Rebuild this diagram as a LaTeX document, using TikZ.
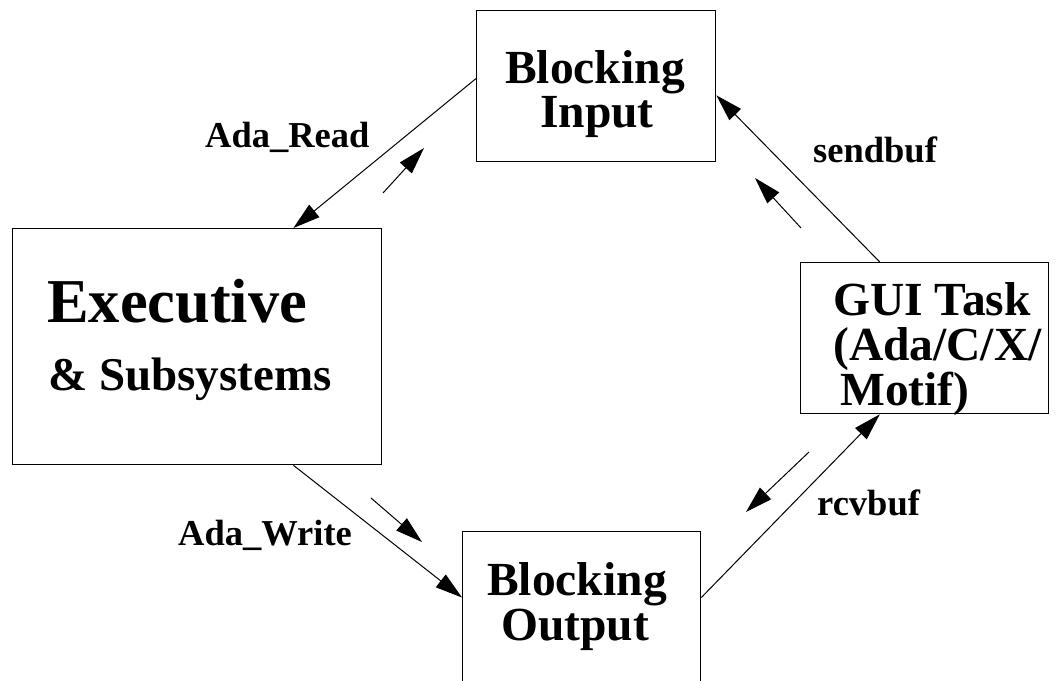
\documentclass[tikz,border=0pt]{standalone}
\usepackage{fontspec}
\setmainfont{Liberation Serif}
\usetikzlibrary{arrows.meta,calc}
\begin{document}
\begin{tikzpicture}[x=1pt,y=-1pt,
  box/.style={draw,line width=1.3pt,rectangle,inner sep=0pt,anchor=north west},
  big/.style={font=\fontsize{47.5}{50}\selectfont\bfseries, inner sep=0pt, anchor=base west},
  bigc/.style={big, anchor=base},
  lab/.style={font=\fontsize{36.5}{40}\selectfont\bfseries, inner sep=0pt, anchor=base west},
  conn/.style={line width=1pt,-{Triangle[length=27pt,width=16pt]}}]
\useasboundingbox (0,0) rectangle (1059,680);
% boxes
\node[box, minimum width=239pt, minimum height=151pt] (bin) at (476,10) {};
\node[box, minimum width=369pt, minimum height=236pt] (exe) at (12,228) {};
\node[box, minimum width=248pt, minimum height=151pt] (gui) at (800,262) {};
\node[box, minimum width=238pt, minimum height=180pt] (bout) at (462,531) {};
% box texts
\node[bigc] (binA) at (595,83) {Blocking};
\node[bigc] (binB) at (597,127) {Input};
\node[big, font=\fontsize{62.4}{66}\selectfont\bfseries] (exeA) at (47,322) {Executive};
\node[big, font=\fontsize{47}{50}\selectfont\bfseries] (exeB) at (48,390) {\& Subsystems};
\node[big] (guiA) at (833,315) {GUI Task};
\node[big] (guiB) at (833,360) {(Ada/C/X/};
\node[big] (guiC) at (840,405) {Motif)};
\node[bigc] (boutA) at (577,595) {Blocking};
\node[bigc] (boutB) at (575,640) {Output};
% labels
\node[lab] (lread) at (205,147) {Ada\_Read};
\node[lab] (lsend) at (813,162) {sendbuf};
\node[lab] (lwrite) at (178,545) {Ada\_Write};
\node[lab] (lrcv) at (817,515) {rcvbuf};
% main connectors
\draw[conn] ($(bin.north west)!0.45!(bin.south west)$) -- ($(exe.north west)!0.76!(exe.north east)$);
\draw[conn] ($(gui.north west)!0.32!(gui.north east)$) -- ($(bin.north east)!0.56!(bin.south east)$);
\draw[conn] ($(exe.south west)!0.76!(exe.south east)$) -- ($(bout.north west)!0.367!(bout.south west)$);
\draw[conn] ($(bout.north east)!0.367!(bout.south east)$) -- ($(gui.south west)!0.32!(gui.south east)$);
% small direction arrows
\coordinate (s1a) at (383,193); \coordinate (s1b) at (424,148);
\coordinate (s2a) at (801,228); \coordinate (s2b) at (755,178);
\coordinate (s3a) at (371,498); \coordinate (s3b) at (422,542);
\coordinate (s4a) at (809,452); \coordinate (s4b) at (746,512);
\draw[conn] (s1a) -- (s1b);
\draw[conn] (s2a) -- (s2b);
\draw[conn] (s3a) -- (s3b);
\draw[conn] (s4a) -- (s4b);
\end{tikzpicture}
\end{document}
